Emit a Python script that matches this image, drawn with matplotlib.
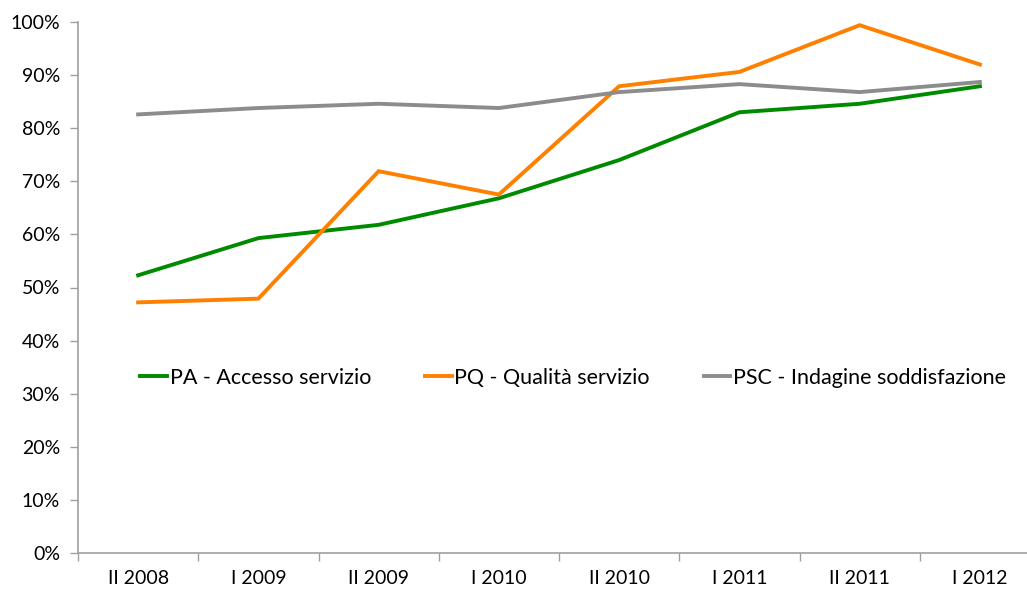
import matplotlib.pyplot as plt
from matplotlib.ticker import PercentFormatter

plt.rcParams['font.family'] = ['Lato', 'DejaVu Sans']

periods = ["II 2008", "I 2009", "II 2009", "I 2010", "II 2010", "I 2011", "II 2011", "I 2012"]
pa = [52.3, 59.3, 61.8, 66.8, 74.0, 83.0, 84.6, 87.9]
pq = [47.2, 47.9, 71.9, 67.5, 87.9, 90.6, 99.4, 92.0]
psc = [82.6, 83.8, 84.6, 83.8, 86.8, 88.3, 86.8, 88.7]
labels = ["PA - Accesso servizio", "PQ - Qualità servizio", "PSC - Indagine soddisfazione"]
colors = ["#008a00", "#ff7f00", "#8c8c8c"]

fig = plt.figure(figsize=(10.27, 5.92), dpi=100)
ax = fig.add_axes([78 / 1027, 1 - 553 / 592, 962 / 1027, 531 / 592])

x = list(range(len(periods)))
for vals, lab, col in zip([pa, pq, psc], labels, colors):
    ax.plot(x, vals, color=col, lw=2.8, label=lab, solid_joinstyle='miter')

ax.set_xlim(-0.5, len(periods) - 0.5)
ax.set_ylim(0, 100)
ax.set_yticks(range(0, 101, 10))
ax.yaxis.set_major_formatter(PercentFormatter(decimals=0))
ax.set_xticks(x)
ax.set_xticklabels(periods)
ax.set_xticks([i + 0.5 for i in range(-1, len(periods))], minor=True)
ax.tick_params(axis='x', which='major', length=0, pad=12, labelsize=14)
ax.tick_params(axis='x', which='minor', length=6, color='#a0a0a0', width=1)
ax.tick_params(axis='y', length=6, color='#a0a0a0', width=1, pad=7, labelsize=14)

for side in ['top', 'right']:
    ax.spines[side].set_visible(False)
for side in ['left', 'bottom']:
    ax.spines[side].set_color('#a0a0a0')
    ax.spines[side].set_linewidth(1.2)

ax.legend(loc='center left', bbox_to_anchor=(0.0645, 0.33), ncol=3, frameon=False,
          fontsize=15.5, handlelength=1.25, handletextpad=0.12, columnspacing=2.5,
          borderaxespad=0, borderpad=0)

plt.savefig("out.png", dpi=100)
